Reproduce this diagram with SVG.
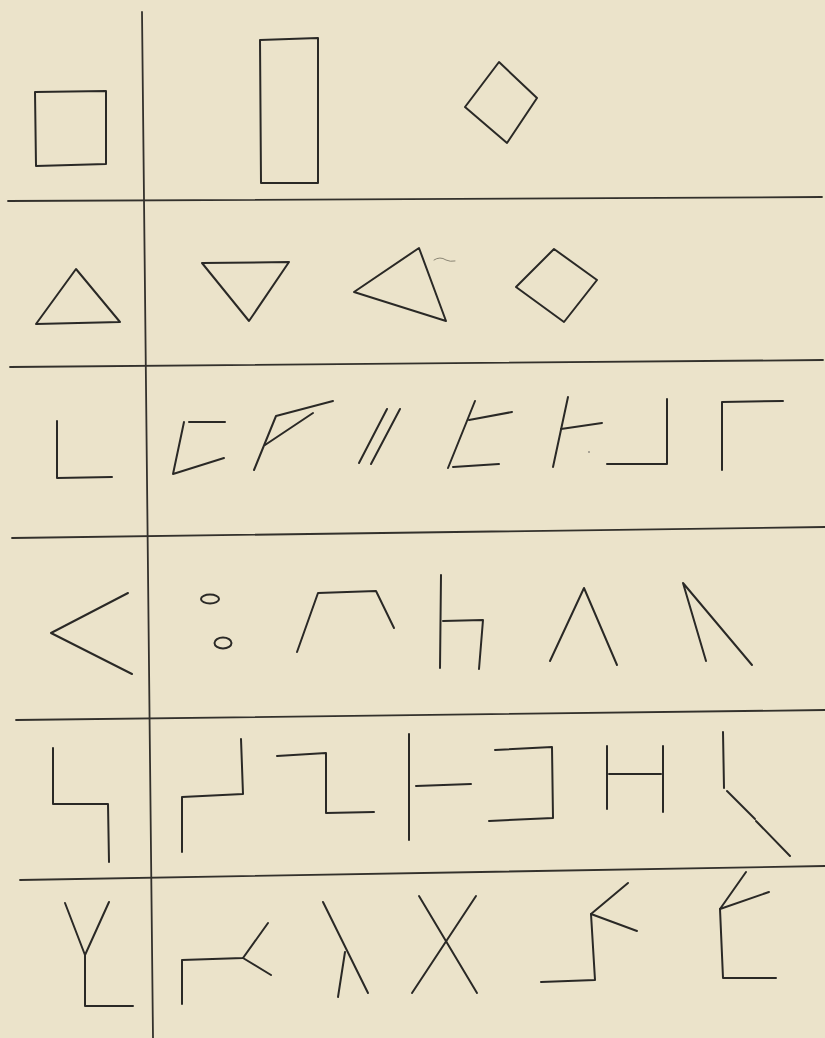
<svg xmlns="http://www.w3.org/2000/svg" width="825" height="1038" viewBox="0 0 825 1038">
<style>
.s{fill:none;stroke:#2a2926;stroke-width:2;stroke-linecap:round;stroke-linejoin:round}
.g{fill:none;stroke:#33312c;stroke-width:1.8;stroke-linecap:round}
.f{fill:none;stroke:#8a8574;stroke-width:1;stroke-linecap:round}
</style>
<rect width="825" height="1038" fill="#ebe3ca"/>
<g id="grid">
<path class="g" d="M142 12 L153 1038"/>
<path class="g" d="M8 201 L822 197"/>
<path class="g" d="M10 367 L823 360"/>
<path class="g" d="M12 538 L825 527"/>
<path class="g" d="M16 720 L825 710"/>
<path class="g" d="M20 880 L825 866"/>
</g>
<g id="row1">
<path class="s" d="M35 92 L106 91 L106 164 L36 166 Z"/>
<path class="s" d="M260 40 L318 38 L318 183 L261 183 Z"/>
<path class="s" d="M499 62 L537 98 L507 143 L465 107 Z"/>
</g>
<g id="row2">
<path class="s" d="M76 269 L120 322 L36 324 Z"/>
<path class="s" d="M202 263 L289 262 L249 321 Z"/>
<path class="s" d="M419 248 L446 321 L354 292 Z"/>
<path class="f" d="M434 260 Q440 256 446 260 Q450 262 455 261"/>
<path class="s" d="M554 249 L597 280 L564 322 L516 287 Z"/>
</g>
<g id="row3">
<path class="s" d="M57 421 L57 478 L112 477"/>
<path class="s" d="M189 422 L225 422"/>
<path class="s" d="M184 422 L173 474 L224 458"/>
<path class="s" d="M333 401 L276 416 L254 470"/>
<path class="s" d="M265 445 L313 413"/>
<path class="s" d="M400 409 L371 464"/>
<path class="s" d="M387 409 L359 463"/>
<path class="s" d="M475 401 L448 468"/>
<path class="s" d="M469 420 L512 412"/>
<path class="s" d="M453 467 L499 464"/>
<path class="s" d="M568 397 L553 467"/>
<path class="s" d="M561 429 L602 423"/>
<path class="s" d="M667 399 L667 464 L607 464"/>
<path class="s" d="M722 470 L722 402 L783 401"/>
<circle cx="589" cy="452" r="0.8" fill="#555"/>
</g>
<g id="row4">
<path class="s" d="M128 593 L51 633 L132 674"/>
<ellipse class="s" cx="210" cy="599" rx="9" ry="4.5"/>
<ellipse class="s" cx="223" cy="643" rx="8.5" ry="5.5"/>
<path class="s" d="M297 652 L318 593 L376 591 L394 628"/>
<path class="s" d="M441 575 L440 668"/>
<path class="s" d="M443 621 L483 620 L479 669"/>
<path class="s" d="M550 661 L584 588 L617 665"/>
<path class="s" d="M706 661 L683 583 L752 665"/>
</g>
<g id="row5">
<path class="s" d="M53 748 L53 804 L108 804 L109 862"/>
<path class="s" d="M182 852 L182 797 L243 794 L241 739"/>
<path class="s" d="M277 756 L326 753 L326 813 L374 812"/>
<path class="s" d="M409 734 L409 840"/>
<path class="s" d="M416 786 L471 784"/>
<path class="s" d="M495 750 L552 747 L553 818 L489 821"/>
<path class="s" d="M607 746 L607 809"/>
<path class="s" d="M663 746 L663 812"/>
<path class="s" d="M609 774 L661 774"/>
<path class="s" d="M723 732 L724 788"/>
<path class="s" d="M727 791 L755 819"/>
<path class="s" d="M756 821 L790 856"/>
</g>
<g id="row6">
<path class="s" d="M65 903 L85 955 L109 902"/>
<path class="s" d="M85 955 L85 1006 L133 1006"/>
<path class="s" d="M182 1004 L182 960 L243 958 L268 923"/>
<path class="s" d="M243 958 L271 975"/>
<path class="s" d="M323 902 L368 993"/>
<path class="s" d="M345 952 L338 997"/>
<path class="s" d="M419 896 L477 993"/>
<path class="s" d="M476 896 L412 993"/>
<path class="s" d="M541 982 L595 980 L591 914 L628 883"/>
<path class="s" d="M591 914 L637 931"/>
<path class="s" d="M776 978 L723 978 L720 909 L746 872"/>
<path class="s" d="M720 909 L769 892"/>
</g>
</svg>
